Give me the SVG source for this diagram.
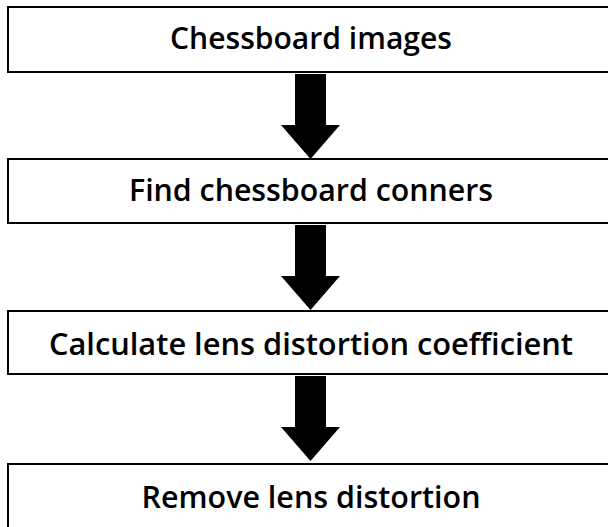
<svg xmlns="http://www.w3.org/2000/svg" width="608" height="527" viewBox="0 0 608 527">
  <style>
    .box { fill: #ffffff; stroke: #000000; stroke-width: 2; }
    .label { font-family: "Open Sans", "Noto Sans", "Liberation Sans", sans-serif; font-weight: 600; font-size: 30px; fill: #000000; text-anchor: middle; }
    .arrow { fill: #000000; }
  </style>
  <defs>
    <!-- block arrow pointing down, origin at its top centre -->
    <path id="down" d="M-15.5,0 H15.5 V51 H29.5 L0,85 L-29.5,51 H-15.5 Z"/>
  </defs>

  <g id="connectors">
    <use href="#down" class="arrow" x="310.5" y="74"/>
    <use href="#down" class="arrow" x="310.5" y="225"/>
    <use href="#down" class="arrow" x="310.5" y="376"/>
  </g>

  <g id="step-images">
    <rect class="box" x="8" y="7" width="612" height="65"/>
    <text class="label" x="311" y="49" textLength="282" lengthAdjust="spacingAndGlyphs">Chessboard images</text>
  </g>

  <g id="step-corners">
    <rect class="box" x="8" y="159" width="612" height="64"/>
    <text class="label" x="311" y="201" textLength="364" lengthAdjust="spacingAndGlyphs">Find chessboard conners</text>
  </g>

  <g id="step-coefficient">
    <rect class="box" x="8" y="311" width="612" height="63"/>
    <text class="label" x="311" y="355" textLength="524" lengthAdjust="spacingAndGlyphs">Calculate lens distortion coefficient</text>
  </g>

  <g id="step-undistort">
    <rect class="box" x="8" y="464" width="612" height="80" stroke="#555555"/>
    <text class="label" x="311" y="508" textLength="339" lengthAdjust="spacingAndGlyphs">Remove lens distortion</text>
  </g>
</svg>
